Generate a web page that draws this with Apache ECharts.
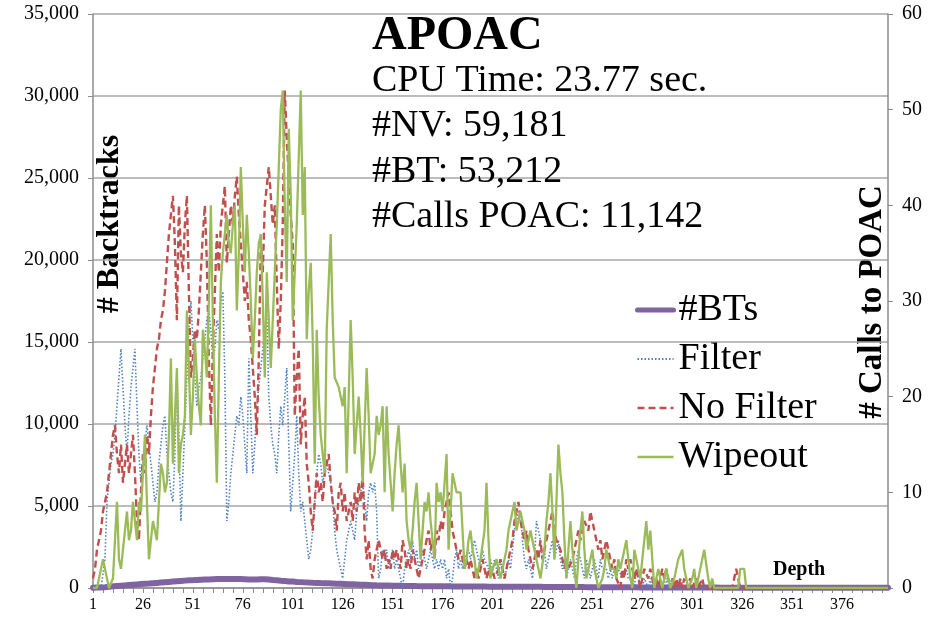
<!DOCTYPE html>
<html>
<head>
<meta charset="utf-8">
<script src="https://cdn.jsdelivr.net/npm/echarts@6/dist/echarts.min.js"></script>
<style>html,body{margin:0;padding:0;background:#fff}#chart{width:933px;height:618px}</style>
</head>
<body>
<div id="chart"></div>
<script>
// Depth categories 1..399
const depthCount = 399;
const categories = [];
for (let d = 1; d <= depthCount; d++) categories.push(String(d));

const leftTicks = [0, 5000, 10000, 15000, 20000, 25000, 30000, 35000];
const rightTicks = [0, 10, 20, 30, 40, 50, 60];

// #BTs (left axis, backtracks per depth)
const btsValues = [
20,20,25,30,30,40,50,60,75,90,
100,110,120,130,140,150,160,170,180,190,
200,210,220,230,240,250,255,260,270,280,
290,300,310,320,330,340,350,360,370,380,
390,400,410,420,430,440,450,460,470,475,
480,490,495,500,505,510,515,520,525,530,
535,540,545,545,550,550,550,555,555,555,
555,550,550,545,545,540,535,530,525,520,
515,515,520,530,540,545,540,530,515,500,
490,480,470,455,440,430,420,410,400,395,
390,380,372,365,358,350,343,336,330,324,
318,313,308,303,299,295,291,287,283,279,
275,270,265,260,255,250,245,240,235,230,
225,220,215,210,205,200,195,190,185,180,
175,170,166,162,158,155,152,149,146,143,
140,138,136,134,132,130,128,126,124,122,
120,118,116,115,114,113,112,111,110,109,
108,107,106,105,104,103,102,101,100,99,
98,97,96,95,94,93,92,91,90,89,
88,87,86,85,85,84,84,83,83,82,
82,81,81,80,80,79,79,78,78,77,
77,76,76,75,75,74,74,73,73,72,
72,71,70,70,69,68,68,67,66,66,
65,64,64,63,62,62,61,60,60,59,
58,58,57,56,56,55,54,54,53,52,
52,51,50,50,49,48,48,47,46,46,
45,45,44,44,43,43,42,42,41,41,
40,40,39,39,38,38,37,37,36,36,
35,35,34,34,33,33,32,32,31,31,
30,30,30,29,29,29,28,28,28,27,
27,27,26,26,26,25,25,25,24,24,
24,23,23,23,22,22,22,21,21,21,
20,20,20,20,20,20,20,20,20,20,
19,19,19,19,19,19,19,19,19,19,
18,18,18,18,18,18,18,18,18,18,
17,17,17,17,17,17,17,17,17,17,
16,16,16,16,16,16,16,16,16,16,
15,15,15,15,15,15,15,15,15,15,
14,14,14,14,14,14,14,14,14,14,
13,13,13,13,13,13,13,13,13
];

// Filter (right axis, calls to POAC)
const filterValues = [
0,0,0,0,0,0,3,9,11,13,
14,16,19,22,25,21,17,14,18,21,
23,25,19,14,11,13,15,17,15,13,
11,9,10,13,15,17,18,14,12,10,
9,14,23,16,7,12,17,22,27,30,
26,22,19,21,22,24,26,28,29,27,
24,25,28,27,30,31,22,7,9,12,
14,16,18,17,20,18,15,12,24,18,
12,15,19,21,23,25,27,29,20,17,
15,14,12,16,19,17,20,23,15,8,
11,14,18,12,8,9,7,5,3,4,
6,9,12,14,13,11,12,13,13,11,
9,6,4,3,2,1,3,5,6,7,
7,5,8,9,10,11,9,7,10,11,
10,11,8,1,2,4,3,4,2,3,
4,2,3,2,1,0,2,3,4,3,
5,3,4,2,3,4,3,2,3,4,
4,2,3,2,3,2,3,1,2,0,
1,3,4,2,3,2,3,3,4,3,
4,5,5,3,2,4,3,3,2,3,
2,3,2,1,3,2,1,2,3,2,
2,6,8,7,8,5,3,2,3,2,
1,3,7,6,5,3,4,2,3,4,
5,3,4,5,3,2,3,1,2,3,
2,1,3,4,3,2,1,3,2,1,
2,3,2,1,3,2,2,2,1,2,
1,2,1,2,2,1,1,2,1,1,
1,0,2,1,1,0,1,1,0,1,
0,1,1,0,1,0,0,1,0,0,
1,0,0,0,1,0,0,0,0,0,
0,0,0,0,0,0,0,0,0,0,
0,0,0,0,0,0,0,0,0,0,
0,0,0,0,0,0,0,0,0,0,
0,0,0,0,0,0,0,0,0,0,
0,0,0,0,0,0,0,0,0,0,
0,0,0,0,0,0,0,0,0,0,
0,0,0,0,0,0,0,0,0,0,
0,0,0,0,0,0,0,0,0,0,
0,0,0,0,0,0,0,0,0,0,
0,0,0,0,0,0,0,0,0
];

// No Filter (right axis)
const noFilterValues = [
1,2,4,5,6,8,9,10,12,14,
16,17,14,12,15,11,13,15,12,14,
16,12,7,5,10,14,12,16,14,18,
21,23,25,26,28,29,31,34,37,39,
41,36,28,40,35,33,38,41,31,22,
24,27,26,29,33,37,40,34,24,17,
25,31,37,33,38,40,42,34,37,40,
38,41,43,39,36,33,30,32,28,26,
23,20,16,24,36,33,40,42,44,41,
38,40,32,25,30,38,52,47,43,39,
36,18,22,25,15,18,20,13,11,8,
6,9,12,10,11,9,12,13,14,11,
9,8,6,10,11,8,10,7,7,9,
7,10,8,11,9,12,6,3,5,2,
1,3,4,5,4,3,4,2,3,2,
4,3,4,3,2,5,4,2,3,2,
4,3,2,1,1,3,4,5,6,4,
5,3,6,5,7,6,8,9,10,8,
6,5,4,3,4,3,2,3,2,3,
2,1,2,1,2,3,2,1,2,1,
2,1,1,2,3,2,1,2,3,4,
5,7,8,9,7,6,5,6,4,3,
2,3,4,3,5,3,4,4,6,7,
8,6,5,5,4,3,2,3,2,2,
3,4,5,6,5,6,7,7,6,8,
7,6,5,4,5,3,4,5,4,3,
2,3,1,1,0,2,1,3,2,3,
2,1,2,1,0,1,2,2,1,2,
1,0,1,0,1,2,1,2,1,0,
1,0,1,0,1,0,1,0,0,1,
0,0,1,0,0,1,0,0,0,0,
0,0,0,0,0,0,0,0,0,0,
0,1,2,1,0,0,0,0,0,0,
0,0,0,0,0,0,0,0,0,0,
0,0,0,0,0,0,0,0,0,0,
0,0,0,0,0,0,0,0,0,0,
0,0,0,0,0,0,0,0,0,0,
0,0,0,0,0,0,0,0,0,0,
0,0,0,0,0,0,0,0,0,0,
0,0,0,0,0,0,0,0,0
];

// Wipeout (right axis)
const wipeoutValues = [
0,0,0,0,2,3,2,1,0,0,
1,5,9,3,2,4,6,8,5,6,
9,7,5,9,8,8,16,9,3,5,
7,6,5,9,13,12,10,11,16,24,
13,18,23,12,15,16,18,29,23,16,
20,26,22,19,17,27,25,22,30,40,
28,18,11,22,32,35,37,39,36,35,
38,40,29,35,44,38,33,39,35,30,
24,28,33,36,37,30,22,33,28,23,
28,33,38,44,50,52,40,32,48,41,
28,33,38,45,52,39,44,26,31,34,
26,13,27,20,16,14,12,27,32,37,
28,22,22,21,20,19,21,12,20,28,
22,14,17,20,16,11,17,23,18,12,
13,14,18,16,17,19,10,19,14,11,
8,12,15,17,13,10,13,7,5,4,
6,9,11,7,3,6,9,8,10,7,
5,3,11,9,10,8,11,14,4,8,
12,11,10,10,10,6,2,3,5,6,
4,3,1,2,3,3,6,11,5,1,
2,2,3,2,1,2,2,4,6,7,
8,9,6,7,8,7,6,4,5,6,
5,4,3,2,1,1,4,7,9,12,
8,3,3,15,12,10,5,1,4,7,
4,2,0,3,6,8,4,1,2,3,
4,2,1,0,0,1,2,4,3,2,
2,2,1,3,2,3,4,5,3,1,
0,4,3,2,1,3,5,7,4,6,
3,0,1,2,1,0,1,2,1,0,
0,1,2,3,3,4,2,1,0,0,
1,2,0,1,2,3,4,4,1,0,
1,0,0,0,0,0,0,0,0,0,
0,0,0,0,2,2,2,0,0,0,
0,0,0,0,0,0,0,0,0,0,
0,0,0,0,0,0,0,0,0,0,
0,0,0,0,0,0,0,0,0,0,
0,0,0,0,0,0,0,0,0,0,
0,0,0,0,0,0,0,0,0,0,
0,0,0,0,0,0,0,0,0,0,
0,0,0,0,0,0,0,0,0
];

const serif = '"Liberation Serif", "Times New Roman", serif';
const chart = echarts.init(document.getElementById('chart'), null, {renderer: 'canvas'});

chart.setOption({
  animation: false,
  backgroundColor: '#ffffff',
  textStyle: {fontFamily: serif},
  grid: {left: 93, right: 45, top: 14, bottom: 30, containLabel: false},
  title: [
    {text: 'APOAC', left: 372, top: 13, padding: 0,
     textStyle: {fontFamily: serif, fontSize: 48, fontWeight: 'bold', color: '#000'}},
    {text: 'CPU Time: 23.77 sec.\n#NV: 59,181\n#BT: 53,212\n#Calls POAC: 11,142',
     left: 372, top: 58, padding: 0,
     textStyle: {fontFamily: serif, fontSize: 38, fontWeight: 'normal', lineHeight: 45.5, color: '#000'}}
  ],
  legend: {
    data: [
      {name: '#BTs', lineStyle: {width: 5}},
      {name: 'Filter', lineStyle: {width: 2}},
      {name: 'No Filter', lineStyle: {width: 2.5}},
      {name: 'Wipeout', lineStyle: {width: 2.5}}
    ],
    orient: 'vertical', left: 630, top: 283,
    itemWidth: 36, itemHeight: 14, itemGap: 5,
    itemStyle: {opacity: 0},
    textStyle: {fontFamily: serif, fontSize: 38, lineHeight: 44, color: '#000'}
  },
  xAxis: {
    type: 'category', data: categories, boundaryGap: false,
    axisLine: {lineStyle: {color: '#8c8c8c', width: 1.5}},
    axisTick: {interval: 4, length: 5, lineStyle: {color: '#8c8c8c'}},
    axisLabel: {interval: 24, margin: 9, fontFamily: serif, fontSize: 16, color: '#000'},
    splitLine: {show: false}
  },
  yAxis: [
    {type: 'value', min: leftTicks[0], max: leftTicks[leftTicks.length - 1], interval: 5000,
     axisLine: {show: true, lineStyle: {color: '#8c8c8c', width: 1.5}},
     axisTick: {show: true, length: 5, lineStyle: {color: '#8c8c8c'}},
     axisLabel: {margin: 14, fontFamily: serif, fontSize: 20, color: '#000',
       formatter: v => v.toLocaleString('en-US')},
     splitLine: {show: true, lineStyle: {color: '#a6a6a6', width: 1.5}}},
    {type: 'value', min: rightTicks[0], max: rightTicks[rightTicks.length - 1], interval: 10,
     position: 'right',
     axisLine: {show: true, lineStyle: {color: '#8c8c8c', width: 1.5}},
     axisTick: {show: true, length: 5, lineStyle: {color: '#8c8c8c'}},
     axisLabel: {margin: 14, fontFamily: serif, fontSize: 20, color: '#000'},
     splitLine: {show: false}}
  ],
  series: [
    {name: '#BTs', type: 'line', yAxisIndex: 0, data: btsValues, symbol: 'none',
     lineStyle: {color: '#8064A2', width: 6, cap: 'round'}, itemStyle: {color: '#8064A2'}},
    {name: 'Filter', type: 'line', yAxisIndex: 1, data: filterValues, symbol: 'none',
     lineStyle: {color: '#4F81BD', width: 1.6, type: [1.5, 2]}, itemStyle: {color: '#4F81BD'}},
    {name: 'No Filter', type: 'line', yAxisIndex: 1, data: noFilterValues, symbol: 'none',
     lineStyle: {color: '#C0504D', width: 2.4, type: [7, 4]}, itemStyle: {color: '#C0504D'}},
    {name: 'Wipeout', type: 'line', yAxisIndex: 1, data: wipeoutValues, symbol: 'none',
     lineStyle: {color: '#9BBB59', width: 2.3}, itemStyle: {color: '#9BBB59'}}
  ],
  graphic: [
    {type: 'text', x: 110, y: 224, rotation: Math.PI / 2,
     style: {text: '# Backtracks', fontFamily: serif, fontSize: 32, fontWeight: 'bold',
             fill: '#000', align: 'center', verticalAlign: 'middle'}},
    {type: 'text', x: 872, y: 302, rotation: Math.PI / 2,
     style: {text: '# Calls to POAC', fontFamily: serif, fontSize: 33, fontWeight: 'bold',
             fill: '#000', align: 'center', verticalAlign: 'middle'}},
    {type: 'text', x: 773, y: 570,
     style: {text: 'Depth', fontFamily: serif, fontSize: 20, fontWeight: 'bold',
             fill: '#000', align: 'left', verticalAlign: 'middle'}}
  ]
});
</script>
</body>
</html>
